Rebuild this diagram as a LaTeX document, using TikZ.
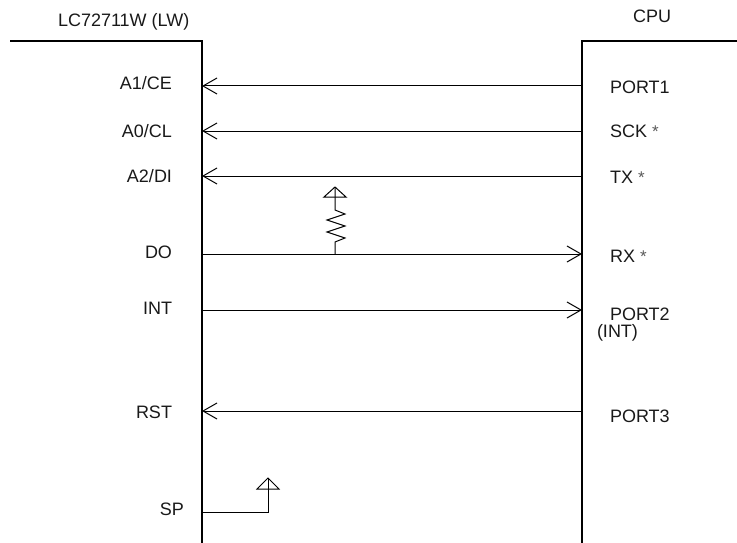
\documentclass[tikz,border=0pt]{standalone}
\usepackage{fontspec}
\setmainfont{Liberation Sans}
\usetikzlibrary{arrows.meta}

\newcommand{\estrella}{{\fontsize{17}{17}\selectfont\color{black!65}*}}

\begin{document}
\begin{tikzpicture}[x=1pt, y=-1pt,
    every node/.style={inner sep=0pt, outer sep=0pt,
        font=\fontsize{18}{21}\selectfont, text=black!90},
    pinL/.style={anchor=base east},
    pinR/.style={anchor=base west},
    bloque/.style={line width=1.2pt},
    hilo/.style={line width=1pt},
    senal/.style={hilo, -{Straight Barb[length=14pt, width=16pt]}},
    vcc/.style={hilo, line join=miter}
    ]
    \useasboundingbox (0,0) rectangle (737,543);

    % bloques
    \node[anchor=base west] (lw) at (58,27) {LC72711W (LW)};
    \node[anchor=base west] (cpu) at (633,23) {CPU};
    \draw[bloque] (10,41) -- (202,41) -- (202,543);
    \draw[bloque] (737,41) -- (582,41) -- (582,543);

    % puntos de conexion
    \coordinate (ce) at (202,86);   \coordinate (p1) at (582,86);
    \coordinate (cl) at (202,131);  \coordinate (sck) at (582,131);
    \coordinate (di) at (202,176);  \coordinate (tx) at (582,176);
    \coordinate (do) at (202,254);  \coordinate (rx) at (582,254);
    \coordinate (int) at (202,310); \coordinate (p2) at (582,310);
    \coordinate (rst) at (202,411); \coordinate (p3) at (582,411);
    \coordinate (sp) at (202,512);

    % pines LW
    \node[pinL] (tce) at (172,89) {A1/CE};
    \node[pinL] (tcl) at (172,137) {A0/CL};
    \node[pinL] (tdi) at (172,182) {A2/DI};
    \node[pinL] (tdo) at (172,258) {DO};
    \node[pinL] (tint) at (172,314) {INT};
    \node[pinL] (trst) at (172,418) {RST};
    \node[pinL] (tsp) at (184,515) {SP};

    % pines CPU
    \node[pinR] (tp1) at (610,93) {PORT1};
    \node[pinR] (tsck) at (610,137) {SCK \estrella};
    \node[pinR] (ttx) at (610,183) {TX \estrella};
    \node[pinR] (trx) at (610,262) {RX \estrella};
    \node[pinR] (tp2) at (610,320) {PORT2};
    \node[pinR] (tp2b) at (597,337) {(INT)};
    \node[pinR] (tp3) at (610,422) {PORT3};

    % senales
    \draw[senal] (p1) -- (ce);
    \draw[senal] (sck) -- (cl);
    \draw[senal] (tx) -- (di);
    \draw[senal] (do) -- (rx);
    \draw[senal] (int) -- (p2);
    \draw[senal] (p3) -- (rst);

    % pull-up en DO
    \coordinate (rj) at (335,254);
    \coordinate (rv) at (335,187);
    \draw[hilo] (rj) -- (335,242)
        -- ++(10,-4) -- ++(-18,-6) -- ++(18,-6) -- ++(-18,-6) -- ++(18,-6) -- ++(-10,-4)
        -- (rv);
    \draw[vcc] (rv) -- ++(-11,10) -- ++(22,0) -- cycle;

    % SP
    \coordinate (sv) at (268,478);
    \draw[hilo] (sp) -| (sv);
    \draw[vcc] (sv) -- ++(-11,11) -- ++(22,0) -- cycle;
\end{tikzpicture}
\end{document}
